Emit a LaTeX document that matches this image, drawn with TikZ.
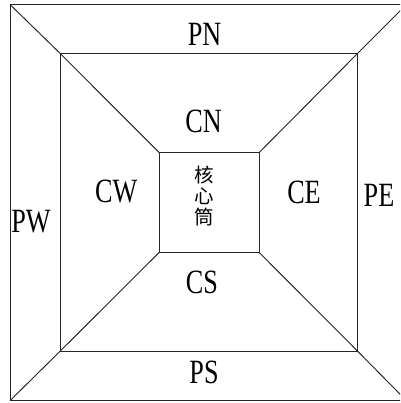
\documentclass[tikz,border=0pt]{standalone}
\usepackage{fontspec}
\setmainfont{Liberation Serif}
\newfontfamily\labfont[FakeStretch=0.77]{Liberation Serif}
\newfontfamily\cjk{Noto Sans CJK SC}
\begin{document}
\begin{tikzpicture}[x=1pt,y=-1pt,
  wall/.style={draw=black!85,line width=0.95pt},
  lab/.style={inner sep=0pt,font=\labfont\fontsize{34}{40}\selectfont},
  core/.style={inner sep=0pt,align=center,font=\cjk\fontsize{19.5}{21}\selectfont}]
\useasboundingbox (0,0) rectangle (400,403);
\clip (0,0) rectangle (400,403);
% corners
\coordinate (o1) at (10,4.5);   \coordinate (o2) at (406.5,4.5);
\coordinate (o3) at (406.5,400.7); \coordinate (o4) at (10,400.7);
\coordinate (i1) at (60,53.3);  \coordinate (i2) at (357.7,53.3);
\coordinate (i3) at (357.7,351.3); \coordinate (i4) at (60,351.3);
\coordinate (c1) at (159.3,152.7); \coordinate (c2) at (259,152.7);
\coordinate (c3) at (259,252.3); \coordinate (c4) at (159.3,252.3);
% squares
\draw[wall] (o1) -- (o2) -- (o3) -- (o4) -- cycle;
\draw[wall] (i1) -- (i2) -- (i3) -- (i4) -- cycle;
\draw[wall] (c1) -- (c2) -- (c3) -- (c4) -- cycle;
% diagonals
\draw[wall] (o1) -- (i1) -- (c1);
\draw[wall] (o2) -- (i2) -- (c2);
\draw[wall] (o3) -- (i3) -- (c3);
\draw[wall] (o4) -- (i4) -- (c4);
% labels
\node[lab] (pn) at (204.5,34) {PN};
\node[lab] (ps) at (204,372) {PS};
\node[lab] (pw) at (31,222) {PW};
\node[lab] (pe) at (379,195) {PE};
\node[lab] (cn) at (203.5,121.7) {CN};
\node[lab] (cs) at (202,282) {CS};
\node[lab] (cw) at (116.3,191.7) {CW};
\node[lab] (ce) at (304,192) {CE};
\node[core] (hx) at (204.5,196) {核\\心\\筒};
\end{tikzpicture}
\end{document}
